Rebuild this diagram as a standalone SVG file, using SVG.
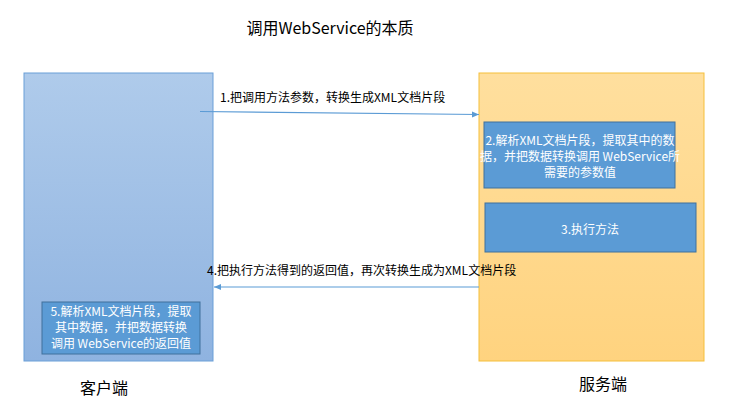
<svg xmlns="http://www.w3.org/2000/svg" width="732" height="402" viewBox="0 0 732 402">
<defs>
<linearGradient id="gc" x1="0" y1="0" x2="0" y2="1"><stop offset="0" stop-color="#afcbeb"/><stop offset="1" stop-color="#8fb3e0"/></linearGradient>
<linearGradient id="gs" x1="0" y1="0" x2="0" y2="1"><stop offset="0" stop-color="#ffdf9e"/><stop offset="1" stop-color="#ffd37f"/></linearGradient>
<marker id="ah" markerWidth="8" markerHeight="8" refX="7" refY="4" orient="auto" markerUnits="userSpaceOnUse"><path d="M0,1 L7,4 L0,7 z" fill="#5b9bd5"/></marker>
<style>
text{font-family:"Noto Sans CJK SC","Liberation Sans",sans-serif}
.box{fill:#5b9bd5;stroke:#41719c;stroke-width:1}
.w{fill:#fff;font-size:12px;text-anchor:middle}
.k{fill:#000;font-size:12px}
.line{stroke:#5b9bd5;stroke-width:1.2;fill:none;marker-end:url(#ah)}
</style>
</defs>
<text x="330" y="34" font-size="16" text-anchor="middle">调用WebService的本质</text>
<g id="client"><rect x="24" y="73" width="189" height="288" fill="url(#gc)" stroke="#6a9fd8"/><text x="104" y="394" font-size="16" text-anchor="middle">客户端</text></g>
<g id="server"><rect x="479" y="73" width="225" height="288" fill="url(#gs)" stroke="#f5bf3a"/><text x="603" y="390" font-size="16" text-anchor="middle">服务端</text></g>
<g id="n2"><rect class="box" x="484" y="122" width="191" height="66"/><text class="w" x="580" y="145">2.解析XML文档片段，提取其中的数</text><text class="w" x="580" y="161">据，并把数据转换调用 WebService所</text><text class="w" x="580" y="177">需要的参数值</text></g>
<g id="n3"><rect class="box" x="485" y="203" width="211" height="49"/><text class="w" x="590" y="234" font-size="16">3.执行方法</text></g>
<g id="n5"><rect class="box" x="42" y="302" width="158" height="52"/><text class="w" x="121" y="316">5.解析XML文档片段，提取</text><text class="w" x="121" y="332">其中数据，并把数据转换</text><text class="w" x="121" y="348">调用 WebService的返回值</text></g>
<g id="connectors">
<path class="line" d="M200,111.5 L479,114.5"/>
<text class="k" x="220" y="102">1.把调用方法参数，转换生成XML文档片段</text>
<path class="line" d="M479,287 L214,287"/>
<text class="k" x="207" y="275">4.把执行方法得到的返回值，再次转换生成为XML文档片段</text>
</g>
</svg>
